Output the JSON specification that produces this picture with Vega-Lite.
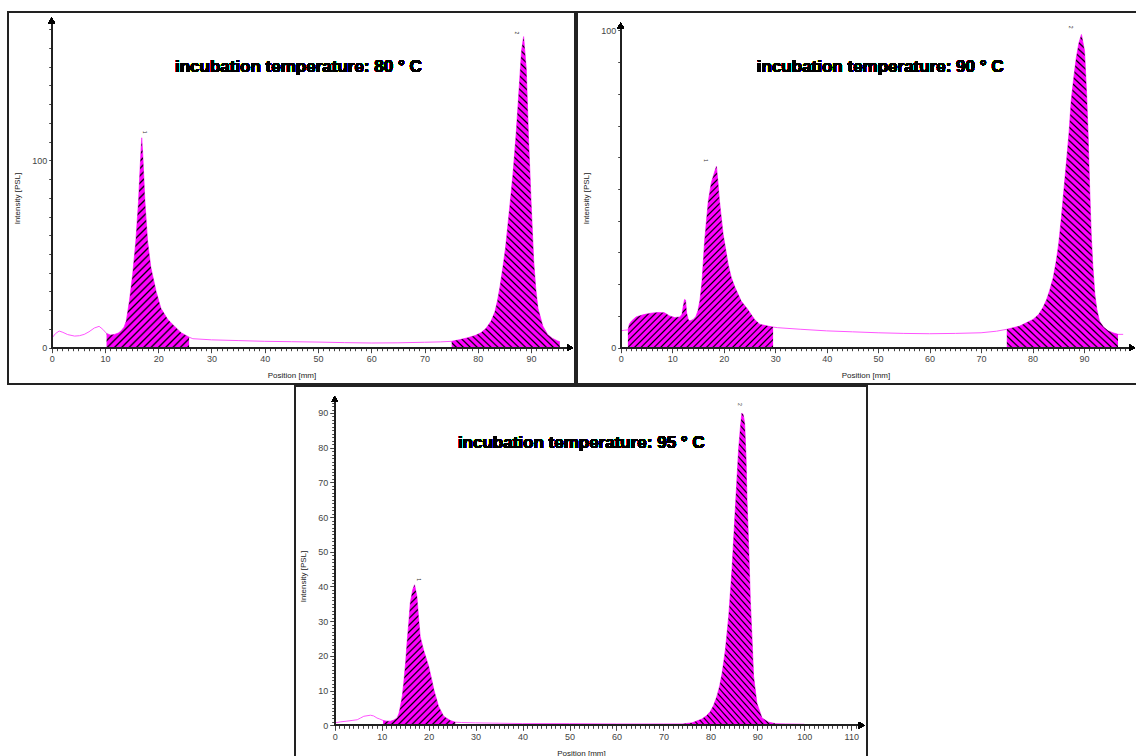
{
"$schema":"https://vega.github.io/schema/vega-lite/v6.json",
"background":"white",
"padding":{"left":7,"top":11,"right":0,"bottom":0},
"spacing":0,
"center":true,
"config":{
 "view":{"stroke":"#222","strokeWidth":2},
 "axis":{"grid":false,"domain":false,"labelFont":"Liberation Sans","titleFont":"Liberation Sans","labelFontSize":9,"titleFontSize":8,"titleFontWeight":"normal","labelColor":"#444","titleColor":"#222","tickColor":"#444","tickWidth":1,"labelOverlap":false,"labelPadding":2},
 "axisX":{"titlePadding":8},
 "axisY":{"titlePadding":10},
 "area":{"opacity":1,"fill":{"gradient":"linear","x1":0,"y1":1,"x2":0.4,"y2":-0.2,"stops":[
{"offset":0,"color":"#f0f"},{"offset":0.008,"color":"#f0f"},{"offset":0.012,"color":"#000"},
{"offset":0.016,"color":"#f0f"},{"offset":0.024,"color":"#f0f"},{"offset":0.028,"color":"#000"},
{"offset":0.032,"color":"#f0f"},{"offset":0.04,"color":"#f0f"},{"offset":0.044,"color":"#000"},
{"offset":0.048,"color":"#f0f"},{"offset":0.056,"color":"#f0f"},{"offset":0.06,"color":"#000"},
{"offset":0.064,"color":"#f0f"},{"offset":0.072,"color":"#f0f"},{"offset":0.076,"color":"#000"},
{"offset":0.08,"color":"#f0f"},{"offset":0.088,"color":"#f0f"},{"offset":0.092,"color":"#000"},
{"offset":0.096,"color":"#f0f"},{"offset":0.104,"color":"#f0f"},{"offset":0.108,"color":"#000"},
{"offset":0.112,"color":"#f0f"},{"offset":0.12,"color":"#f0f"},{"offset":0.124,"color":"#000"},
{"offset":0.128,"color":"#f0f"},{"offset":0.136,"color":"#f0f"},{"offset":0.14,"color":"#000"},
{"offset":0.144,"color":"#f0f"},{"offset":0.152,"color":"#f0f"},{"offset":0.156,"color":"#000"},
{"offset":0.16,"color":"#f0f"},{"offset":0.168,"color":"#f0f"},{"offset":0.172,"color":"#000"},
{"offset":0.176,"color":"#f0f"},{"offset":0.184,"color":"#f0f"},{"offset":0.188,"color":"#000"},
{"offset":0.192,"color":"#f0f"},{"offset":0.2,"color":"#f0f"},{"offset":0.204,"color":"#000"},
{"offset":0.208,"color":"#f0f"},{"offset":0.216,"color":"#f0f"},{"offset":0.22,"color":"#000"},
{"offset":0.224,"color":"#f0f"},{"offset":0.232,"color":"#f0f"},{"offset":0.236,"color":"#000"},
{"offset":0.24,"color":"#f0f"},{"offset":0.248,"color":"#f0f"},{"offset":0.252,"color":"#000"},
{"offset":0.256,"color":"#f0f"},{"offset":0.264,"color":"#f0f"},{"offset":0.268,"color":"#000"},
{"offset":0.272,"color":"#f0f"},{"offset":0.28,"color":"#f0f"},{"offset":0.284,"color":"#000"},
{"offset":0.288,"color":"#f0f"},{"offset":0.296,"color":"#f0f"},{"offset":0.3,"color":"#000"},
{"offset":0.304,"color":"#f0f"},{"offset":0.312,"color":"#f0f"},{"offset":0.316,"color":"#000"},
{"offset":0.32,"color":"#f0f"},{"offset":0.328,"color":"#f0f"},{"offset":0.332,"color":"#000"},
{"offset":0.336,"color":"#f0f"},{"offset":0.344,"color":"#f0f"},{"offset":0.348,"color":"#000"},
{"offset":0.352,"color":"#f0f"},{"offset":0.36,"color":"#f0f"},{"offset":0.364,"color":"#000"},
{"offset":0.368,"color":"#f0f"},{"offset":0.376,"color":"#f0f"},{"offset":0.38,"color":"#000"},
{"offset":0.384,"color":"#f0f"},{"offset":0.392,"color":"#f0f"},{"offset":0.396,"color":"#000"},
{"offset":0.4,"color":"#f0f"},{"offset":0.408,"color":"#f0f"},{"offset":0.412,"color":"#000"},
{"offset":0.416,"color":"#f0f"},{"offset":0.424,"color":"#f0f"},{"offset":0.428,"color":"#000"},
{"offset":0.432,"color":"#f0f"},{"offset":0.44,"color":"#f0f"},{"offset":0.444,"color":"#000"},
{"offset":0.448,"color":"#f0f"},{"offset":0.456,"color":"#f0f"},{"offset":0.46,"color":"#000"},
{"offset":0.464,"color":"#f0f"},{"offset":0.472,"color":"#f0f"},{"offset":0.476,"color":"#000"},
{"offset":0.48,"color":"#f0f"},{"offset":0.488,"color":"#f0f"},{"offset":0.492,"color":"#000"},
{"offset":0.496,"color":"#f0f"},{"offset":0.504,"color":"#f0f"},{"offset":0.508,"color":"#000"},
{"offset":0.512,"color":"#f0f"},{"offset":0.52,"color":"#f0f"},{"offset":0.524,"color":"#000"},
{"offset":0.528,"color":"#f0f"},{"offset":0.536,"color":"#f0f"},{"offset":0.54,"color":"#000"},
{"offset":0.544,"color":"#f0f"},{"offset":0.552,"color":"#f0f"},{"offset":0.556,"color":"#000"},
{"offset":0.56,"color":"#f0f"},{"offset":0.568,"color":"#f0f"},{"offset":0.572,"color":"#000"},
{"offset":0.576,"color":"#f0f"},{"offset":0.584,"color":"#f0f"},{"offset":0.588,"color":"#000"},
{"offset":0.592,"color":"#f0f"},{"offset":0.6,"color":"#f0f"},{"offset":0.604,"color":"#000"},
{"offset":0.608,"color":"#f0f"},{"offset":0.616,"color":"#f0f"},{"offset":0.62,"color":"#000"},
{"offset":0.624,"color":"#f0f"},{"offset":0.632,"color":"#f0f"},{"offset":0.636,"color":"#000"},
{"offset":0.64,"color":"#f0f"},{"offset":0.648,"color":"#f0f"},{"offset":0.652,"color":"#000"},
{"offset":0.656,"color":"#f0f"},{"offset":0.664,"color":"#f0f"},{"offset":0.668,"color":"#000"},
{"offset":0.672,"color":"#f0f"},{"offset":0.68,"color":"#f0f"},{"offset":0.684,"color":"#000"},
{"offset":0.688,"color":"#f0f"},{"offset":0.696,"color":"#f0f"},{"offset":0.7,"color":"#000"},
{"offset":0.704,"color":"#f0f"},{"offset":0.712,"color":"#f0f"},{"offset":0.716,"color":"#000"},
{"offset":0.72,"color":"#f0f"},{"offset":0.728,"color":"#f0f"},{"offset":0.732,"color":"#000"},
{"offset":0.736,"color":"#f0f"},{"offset":0.744,"color":"#f0f"},{"offset":0.748,"color":"#000"},
{"offset":0.752,"color":"#f0f"},{"offset":0.76,"color":"#f0f"},{"offset":0.764,"color":"#000"},
{"offset":0.768,"color":"#f0f"},{"offset":0.776,"color":"#f0f"},{"offset":0.78,"color":"#000"},
{"offset":0.784,"color":"#f0f"},{"offset":0.792,"color":"#f0f"},{"offset":0.796,"color":"#000"},
{"offset":0.8,"color":"#f0f"},{"offset":0.808,"color":"#f0f"},{"offset":0.812,"color":"#000"},
{"offset":0.816,"color":"#f0f"},{"offset":0.824,"color":"#f0f"},{"offset":0.828,"color":"#000"},
{"offset":0.832,"color":"#f0f"},{"offset":0.84,"color":"#f0f"},{"offset":0.844,"color":"#000"},
{"offset":0.848,"color":"#f0f"},{"offset":0.856,"color":"#f0f"},{"offset":0.86,"color":"#000"},
{"offset":0.864,"color":"#f0f"},{"offset":0.872,"color":"#f0f"},{"offset":0.876,"color":"#000"},
{"offset":0.88,"color":"#f0f"},{"offset":0.888,"color":"#f0f"},{"offset":0.892,"color":"#000"},
{"offset":0.896,"color":"#f0f"},{"offset":0.904,"color":"#f0f"},{"offset":0.908,"color":"#000"},
{"offset":0.912,"color":"#f0f"},{"offset":0.92,"color":"#f0f"},{"offset":0.924,"color":"#000"},
{"offset":0.928,"color":"#f0f"},{"offset":0.936,"color":"#f0f"},{"offset":0.94,"color":"#000"},
{"offset":0.944,"color":"#f0f"},{"offset":0.952,"color":"#f0f"},{"offset":0.956,"color":"#000"},
{"offset":0.96,"color":"#f0f"},{"offset":0.968,"color":"#f0f"},{"offset":0.972,"color":"#000"},
{"offset":0.976,"color":"#f0f"},{"offset":0.984,"color":"#f0f"},{"offset":0.988,"color":"#000"},
{"offset":0.992,"color":"#f0f"},{"offset":1,"color":"#f0f"}]}}
},
"datasets":{
"a":[{"x":0,"y":5,"r":""},{"x":0.7,"y":7.5,"r":""},{"x":1.4,"y":8.9,"r":""},{"x":2.1,"y":8.2,"r":""},{"x":3,"y":7,"r":""},{"x":4.3,"y":6.2,"r":""},{"x":5.2,"y":6.4,"r":""},{"x":6.1,"y":7.1,"r":""},{"x":7,"y":8.5,"r":""},{"x":8,"y":10.5,"r":""},{"x":8.9,"y":11.4,"r":""},{"x":9.6,"y":9.8,"r":""},
{"x":10.3,"y":7.6,"r":"p1"},{"x":11,"y":6.8,"r":"p1"},{"x":11.8,"y":7.1,"r":"p1"},{"x":12.5,"y":7.8,"r":"p1"},{"x":13,"y":8.9,"r":"p1"},{"x":13.6,"y":11,"r":"p1"},{"x":14,"y":14.2,"r":"p1"},{"x":14.6,"y":25,"r":"p1"},{"x":15.2,"y":39,"r":"p1"},{"x":15.8,"y":57,"r":"p1"},{"x":16.3,"y":78,"r":"p1"},{"x":16.6,"y":96,"r":"p1"},{"x":16.9,"y":112,"r":"p1"},{"x":17.1,"y":103,"r":"p1"},{"x":17.5,"y":78,"r":"p1"},{"x":18,"y":57,"r":"p1"},{"x":18.6,"y":43,"r":"p1"},{"x":19.6,"y":30,"r":"p1"},{"x":20.5,"y":21,"r":"p1"},{"x":21.8,"y":15,"r":"p1"},{"x":23,"y":11.6,"r":"p1"},{"x":24.3,"y":8,"r":"p1"},{"x":25.8,"y":5.6,"r":"p1"},
{"x":26.5,"y":4.8,"r":""},{"x":30,"y":4.2,"r":""},{"x":35,"y":3.8,"r":""},{"x":40,"y":3.4,"r":""},{"x":45,"y":3.2,"r":""},{"x":50,"y":3,"r":""},{"x":55,"y":2.7,"r":""},{"x":60,"y":2.5,"r":""},{"x":65,"y":2.6,"r":""},{"x":70,"y":2.9,"r":""},{"x":73,"y":3.1,"r":""},
{"x":75.1,"y":3.4,"r":"p2"},{"x":76.5,"y":4.2,"r":"p2"},{"x":78.1,"y":5.3,"r":"p2"},{"x":79.5,"y":6.5,"r":"p2"},{"x":80.6,"y":8,"r":"p2"},{"x":81.6,"y":10.5,"r":"p2"},{"x":82.5,"y":14.2,"r":"p2"},{"x":83.2,"y":19,"r":"p2"},{"x":83.7,"y":25,"r":"p2"},{"x":84.2,"y":33,"r":"p2"},{"x":84.7,"y":42.7,"r":"p2"},{"x":85.2,"y":53,"r":"p2"},{"x":85.6,"y":64,"r":"p2"},{"x":86.1,"y":78,"r":"p2"},{"x":86.6,"y":92.5,"r":"p2"},{"x":87.2,"y":114,"r":"p2"},{"x":87.8,"y":140,"r":"p2"},{"x":88.2,"y":158,"r":"p2"},{"x":88.6,"y":166,"r":"p2"},{"x":89.1,"y":149,"r":"p2"},{"x":89.5,"y":114,"r":"p2"},{"x":90,"y":78,"r":"p2"},{"x":90.5,"y":46,"r":"p2"},{"x":90.9,"y":31,"r":"p2"},{"x":91.3,"y":21,"r":"p2"},{"x":92.2,"y":11.6,"r":"p2"},{"x":93.1,"y":7.1,"r":"p2"},{"x":94,"y":5,"r":"p2"},{"x":95,"y":3.6,"r":"p2"},{"x":95.4,"y":3.2,"r":"p2"}],
"b":[{"x":0,"y":5.3,"r":""},{"x":0.7,"y":5.5,"r":""},
{"x":1.4,"y":5.6,"r":"p1"},{"x":1.7,"y":7.5,"r":"p1"},{"x":2.1,"y":8.4,"r":"p1"},{"x":3,"y":9.7,"r":"p1"},{"x":4,"y":10.2,"r":"p1"},{"x":4.7,"y":10.5,"r":"p1"},{"x":5.6,"y":10.8,"r":"p1"},{"x":6.6,"y":11,"r":"p1"},{"x":7.5,"y":11.1,"r":"p1"},{"x":8.5,"y":11,"r":"p1"},{"x":9.5,"y":10,"r":"p1"},{"x":10.5,"y":9.5,"r":"p1"},{"x":11.5,"y":9.7,"r":"p1"},{"x":11.9,"y":10.5,"r":"p1"},{"x":12.2,"y":13.5,"r":"p1"},{"x":12.4,"y":15.2,"r":"p1"},{"x":12.6,"y":15,"r":"p1"},{"x":12.8,"y":11,"r":"p1"},{"x":13.1,"y":9,"r":"p1"},{"x":13.4,"y":8.4,"r":"p1"},{"x":14.1,"y":8.9,"r":"p1"},{"x":14.6,"y":9.8,"r":"p1"},{"x":15,"y":11.6,"r":"p1"},{"x":15.4,"y":15,"r":"p1"},{"x":15.8,"y":21,"r":"p1"},{"x":16.3,"y":33.6,"r":"p1"},{"x":17,"y":46,"r":"p1"},{"x":17.6,"y":52,"r":"p1"},{"x":18.3,"y":55.7,"r":"p1"},{"x":18.6,"y":57.2,"r":"p1"},{"x":18.9,"y":52,"r":"p1"},{"x":19.2,"y":46,"r":"p1"},{"x":19.9,"y":35.7,"r":"p1"},{"x":20.9,"y":26,"r":"p1"},{"x":21.5,"y":22,"r":"p1"},{"x":22.2,"y":19,"r":"p1"},{"x":23.4,"y":14.7,"r":"p1"},{"x":24.7,"y":12,"r":"p1"},{"x":26,"y":8.9,"r":"p1"},{"x":27,"y":7.4,"r":"p1"},{"x":28.6,"y":6.8,"r":"p1"},{"x":29.6,"y":6.5,"r":"p1"},
{"x":30.5,"y":6.3,"r":""},{"x":35,"y":5.8,"r":""},{"x":40,"y":5.3,"r":""},{"x":45,"y":5,"r":""},{"x":50,"y":4.7,"r":""},{"x":55,"y":4.5,"r":""},{"x":60,"y":4.4,"r":""},{"x":65,"y":4.5,"r":""},{"x":70,"y":4.7,"r":""},{"x":73,"y":5.2,"r":""},
{"x":75,"y":5.8,"r":"p2"},{"x":77.5,"y":6.8,"r":"p2"},{"x":80.1,"y":8.9,"r":"p2"},{"x":81.2,"y":10.5,"r":"p2"},{"x":82,"y":12.6,"r":"p2"},{"x":82.7,"y":15,"r":"p2"},{"x":83.3,"y":17.9,"r":"p2"},{"x":84,"y":22,"r":"p2"},{"x":84.6,"y":27.3,"r":"p2"},{"x":85.1,"y":33,"r":"p2"},{"x":85.6,"y":41,"r":"p2"},{"x":86.1,"y":50,"r":"p2"},{"x":86.6,"y":58.8,"r":"p2"},{"x":87.1,"y":68,"r":"p2"},{"x":87.5,"y":77.7,"r":"p2"},{"x":88,"y":85,"r":"p2"},{"x":88.5,"y":91.4,"r":"p2"},{"x":89,"y":96,"r":"p2"},{"x":89.5,"y":98.7,"r":"p2"},{"x":90.1,"y":93.5,"r":"p2"},{"x":90.5,"y":80,"r":"p2"},{"x":90.8,"y":67,"r":"p2"},{"x":91.1,"y":50,"r":"p2"},{"x":91.4,"y":35.7,"r":"p2"},{"x":91.7,"y":26,"r":"p2"},{"x":92.1,"y":16.8,"r":"p2"},{"x":92.5,"y":12,"r":"p2"},{"x":93,"y":8.4,"r":"p2"},{"x":93.8,"y":6.5,"r":"p2"},{"x":94.7,"y":5.3,"r":"p2"},{"x":95.6,"y":4.7,"r":"p2"},{"x":96.6,"y":4.2,"r":"p2"},
{"x":97.6,"y":4.2,"r":""}],
"c":[{"x":0,"y":0.7,"r":""},{"x":1.3,"y":1,"r":""},{"x":2.6,"y":1.2,"r":""},{"x":3.7,"y":1.4,"r":""},{"x":4.8,"y":1.6,"r":""},{"x":5.5,"y":2.1,"r":""},{"x":6.2,"y":2.6,"r":""},{"x":7.6,"y":2.9,"r":""},{"x":8.3,"y":2.7,"r":""},{"x":9,"y":2.1,"r":""},{"x":9.6,"y":1.8,"r":""},
{"x":10.3,"y":1.4,"r":"p1"},{"x":11.1,"y":1.2,"r":"p1"},{"x":11.9,"y":1.2,"r":"p1"},{"x":12.6,"y":1.5,"r":"p1"},{"x":13.3,"y":2.1,"r":"p1"},{"x":13.7,"y":3.5,"r":"p1"},{"x":14,"y":5.5,"r":"p1"},{"x":14.4,"y":8.5,"r":"p1"},{"x":14.7,"y":12.2,"r":"p1"},{"x":15.1,"y":18,"r":"p1"},{"x":15.4,"y":23.7,"r":"p1"},{"x":15.8,"y":30,"r":"p1"},{"x":16.1,"y":35.3,"r":"p1"},{"x":16.6,"y":39,"r":"p1"},{"x":17,"y":40.5,"r":"p1"},{"x":17.5,"y":37.2,"r":"p1"},{"x":17.8,"y":32,"r":"p1"},{"x":18.2,"y":25.6,"r":"p1"},{"x":18.9,"y":21.8,"r":"p1"},{"x":20,"y":17,"r":"p1"},{"x":20.6,"y":13.5,"r":"p1"},{"x":21.1,"y":10.3,"r":"p1"},{"x":22.1,"y":5.5,"r":"p1"},{"x":23.2,"y":2.6,"r":"p1"},{"x":24.6,"y":1.4,"r":"p1"},{"x":25.7,"y":0.9,"r":"p1"},
{"x":27,"y":0.8,"r":""},{"x":30,"y":0.7,"r":""},{"x":35,"y":0.6,"r":""},{"x":40,"y":0.5,"r":""},{"x":50,"y":0.5,"r":""},{"x":60,"y":0.4,"r":""},{"x":70,"y":0.4,"r":""},
{"x":74,"y":0.4,"r":"p2"},{"x":76.1,"y":0.7,"r":"p2"},{"x":78.2,"y":1.8,"r":"p2"},{"x":79.2,"y":2.8,"r":"p2"},{"x":80,"y":4,"r":"p2"},{"x":80.7,"y":5.8,"r":"p2"},{"x":81.4,"y":8.4,"r":"p2"},{"x":82,"y":11.5,"r":"p2"},{"x":82.5,"y":15,"r":"p2"},{"x":83.2,"y":21.8,"r":"p2"},{"x":83.9,"y":31.4,"r":"p2"},{"x":84.6,"y":44.9,"r":"p2"},{"x":85.3,"y":62.2,"r":"p2"},{"x":86,"y":79.4,"r":"p2"},{"x":86.4,"y":86,"r":"p2"},{"x":86.7,"y":90,"r":"p2"},{"x":87,"y":89.5,"r":"p2"},{"x":87.3,"y":87,"r":"p2"},{"x":87.6,"y":77,"r":"p2"},{"x":87.8,"y":65,"r":"p2"},{"x":88.2,"y":50,"r":"p2"},{"x":88.5,"y":36.2,"r":"p2"},{"x":88.9,"y":24,"r":"p2"},{"x":89.2,"y":14.1,"r":"p2"},{"x":89.9,"y":6.4,"r":"p2"},{"x":91,"y":2.1,"r":"p2"},{"x":92.4,"y":0.9,"r":"p2"},{"x":93.8,"y":0.5,"r":"p2"},
{"x":96,"y":0.4,"r":""},{"x":100,"y":0.3,"r":""}]
},
"vconcat":[
{"hconcat":[
{"width":567,"height":372,"data":{"name":"a"},"layer":[
 {"mark":{"type":"line","color":"#ff55ff","strokeWidth":1},
  "encoding":{
   "x":{"field":"x","type":"quantitative","scale":{"domain":[-8.205,98.25],"nice":false,"zero":false},
     "axis":{"title":"Position [mm]","offset":-36.3,"labelOverlap":false,"tickCount":500,"format":"d","values":[0,1,2,3,4,5,6,7,8,9,10,11,12,13,14,15,16,17,18,19,20,21,22,23,24,25,26,27,28,29,30,31,32,33,34,35,36,37,38,39,40,41,42,43,44,45,46,47,48,49,50,51,52,53,54,55,56,57,58,59,60,61,62,63,64,65,66,67,68,69,70,71,72,73,74,75,76,77,78,79,80,81,82,83,84,85,86,87,88,89,90,91,92,93,94,95,96],"labelExpr":"datum.value % 10 == 0 ? datum.label : ''","tickSize":{"condition":{"test":"datum.value % 10 == 0","value":5},"value":3}}},
   "y":{"field":"y","type":"quantitative","scale":{"domain":[-19.37,179.13],"nice":false,"zero":false},
     "axis":{"title":"Intensity [PSL]","offset":-43.7,"labelOverlap":false,"tickCount":500,"format":"d","values":[0,10,20,30,40,50,60,70,80,90,100,110,120,130,140,150,160,170],"labelExpr":"datum.value == 0 || datum.value == 100 ? datum.label : ''","tickSize":3}}}},
 {"transform":[{"filter":"datum.r == 'p1'"}],
  "mark":{"type":"area","opacity":1,"fill":{"gradient":"linear","x1":0,"y1":0,"x2":0.4748,"y2":1.2067,"stops":[
{"offset":0,"color":"#f0f"},{"offset":0.0125,"color":"#f0f"},{"offset":0.01875,"color":"#000"},
{"offset":0.025,"color":"#f0f"},{"offset":0.0375,"color":"#f0f"},{"offset":0.04375,"color":"#000"},
{"offset":0.05,"color":"#f0f"},{"offset":0.0625,"color":"#f0f"},{"offset":0.06875,"color":"#000"},
{"offset":0.075,"color":"#f0f"},{"offset":0.0875,"color":"#f0f"},{"offset":0.09375,"color":"#000"},
{"offset":0.1,"color":"#f0f"},{"offset":0.1125,"color":"#f0f"},{"offset":0.11875,"color":"#000"},
{"offset":0.125,"color":"#f0f"},{"offset":0.1375,"color":"#f0f"},{"offset":0.14375,"color":"#000"},
{"offset":0.15,"color":"#f0f"},{"offset":0.1625,"color":"#f0f"},{"offset":0.16875,"color":"#000"},
{"offset":0.175,"color":"#f0f"},{"offset":0.1875,"color":"#f0f"},{"offset":0.19375,"color":"#000"},
{"offset":0.2,"color":"#f0f"},{"offset":0.2125,"color":"#f0f"},{"offset":0.21875,"color":"#000"},
{"offset":0.225,"color":"#f0f"},{"offset":0.2375,"color":"#f0f"},{"offset":0.24375,"color":"#000"},
{"offset":0.25,"color":"#f0f"},{"offset":0.2625,"color":"#f0f"},{"offset":0.26875,"color":"#000"},
{"offset":0.275,"color":"#f0f"},{"offset":0.2875,"color":"#f0f"},{"offset":0.29375,"color":"#000"},
{"offset":0.3,"color":"#f0f"},{"offset":0.3125,"color":"#f0f"},{"offset":0.31875,"color":"#000"},
{"offset":0.325,"color":"#f0f"},{"offset":0.3375,"color":"#f0f"},{"offset":0.34375,"color":"#000"},
{"offset":0.35,"color":"#f0f"},{"offset":0.3625,"color":"#f0f"},{"offset":0.36875,"color":"#000"},
{"offset":0.375,"color":"#f0f"},{"offset":0.3875,"color":"#f0f"},{"offset":0.39375,"color":"#000"},
{"offset":0.4,"color":"#f0f"},{"offset":0.4125,"color":"#f0f"},{"offset":0.41875,"color":"#000"},
{"offset":0.425,"color":"#f0f"},{"offset":0.4375,"color":"#f0f"},{"offset":0.44375,"color":"#000"},
{"offset":0.45,"color":"#f0f"},{"offset":0.4625,"color":"#f0f"},{"offset":0.46875,"color":"#000"},
{"offset":0.475,"color":"#f0f"},{"offset":0.4875,"color":"#f0f"},{"offset":0.49375,"color":"#000"},
{"offset":0.5,"color":"#f0f"},{"offset":0.5125,"color":"#f0f"},{"offset":0.51875,"color":"#000"},
{"offset":0.525,"color":"#f0f"},{"offset":0.5375,"color":"#f0f"},{"offset":0.54375,"color":"#000"},
{"offset":0.55,"color":"#f0f"},{"offset":0.5625,"color":"#f0f"},{"offset":0.56875,"color":"#000"},
{"offset":0.575,"color":"#f0f"},{"offset":0.5875,"color":"#f0f"},{"offset":0.59375,"color":"#000"},
{"offset":0.6,"color":"#f0f"},{"offset":0.6125,"color":"#f0f"},{"offset":0.61875,"color":"#000"},
{"offset":0.625,"color":"#f0f"},{"offset":0.6375,"color":"#f0f"},{"offset":0.64375,"color":"#000"},
{"offset":0.65,"color":"#f0f"},{"offset":0.6625,"color":"#f0f"},{"offset":0.66875,"color":"#000"},
{"offset":0.675,"color":"#f0f"},{"offset":0.6875,"color":"#f0f"},{"offset":0.69375,"color":"#000"},
{"offset":0.7,"color":"#f0f"},{"offset":0.7125,"color":"#f0f"},{"offset":0.71875,"color":"#000"},
{"offset":0.725,"color":"#f0f"},{"offset":0.7375,"color":"#f0f"},{"offset":0.74375,"color":"#000"},
{"offset":0.75,"color":"#f0f"},{"offset":0.7625,"color":"#f0f"},{"offset":0.76875,"color":"#000"},
{"offset":0.775,"color":"#f0f"},{"offset":0.7875,"color":"#f0f"},{"offset":0.79375,"color":"#000"},
{"offset":0.8,"color":"#f0f"},{"offset":0.8125,"color":"#f0f"},{"offset":0.81875,"color":"#000"},
{"offset":0.825,"color":"#f0f"},{"offset":0.8375,"color":"#f0f"},{"offset":0.84375,"color":"#000"},
{"offset":0.85,"color":"#f0f"},{"offset":0.8625,"color":"#f0f"},{"offset":0.86875,"color":"#000"},
{"offset":0.875,"color":"#f0f"},{"offset":0.8875,"color":"#f0f"},{"offset":0.89375,"color":"#000"},
{"offset":0.9,"color":"#f0f"},{"offset":0.9125,"color":"#f0f"},{"offset":0.91875,"color":"#000"},
{"offset":0.925,"color":"#f0f"},{"offset":0.9375,"color":"#f0f"},{"offset":0.94375,"color":"#000"},
{"offset":0.95,"color":"#f0f"},{"offset":0.9625,"color":"#f0f"},{"offset":0.96875,"color":"#000"},
{"offset":0.975,"color":"#f0f"},{"offset":0.9875,"color":"#f0f"},{"offset":0.99375,"color":"#000"},
{"offset":1,"color":"#f0f"}]}},
  "encoding":{"x":{"field":"x","type":"quantitative"},"y":{"field":"y","type":"quantitative"},"y2":{"datum":0}}},
 {"transform":[{"filter":"datum.r == 'p2'"}],"mark":{"type":"area","opacity":1},
  "encoding":{"x":{"field":"x","type":"quantitative"},"y":{"field":"y","type":"quantitative"},"y2":{"datum":0}}},
 {"mark":{"type":"rule","color":"#222","strokeWidth":1},"encoding":{"x":{"datum":0,"type":"quantitative"},"x2":{"datum":97.3},"y":{"datum":0,"type":"quantitative"}}},
 {"mark":{"type":"rule","color":"#222","strokeWidth":1},"encoding":{"x":{"datum":0,"type":"quantitative"},"y":{"datum":0,"type":"quantitative"},"y2":{"datum":174.6}}},
 {"mark":{"type":"point","shape":"triangle-up","filled":true,"color":"#000","size":45,"opacity":1},"encoding":{"x":{"datum":0,"type":"quantitative"},"y":{"datum":174.6,"type":"quantitative"}}},
 {"mark":{"type":"point","shape":"triangle-right","filled":true,"color":"#000","size":45,"opacity":1},"encoding":{"x":{"datum":97.3,"type":"quantitative"},"y":{"datum":0,"type":"quantitative"}}},
 {"mark":{"type":"text","text":"incubation temperature: 80 ° C","font":"Liberation Sans","fontSize":17,"fontWeight":"bold","color":"#000"},"encoding":{"x":{"datum":46.3,"type":"quantitative"},"y":{"datum":149.8,"type":"quantitative"}}},
 {"data":{"values":[{"x":17.6,"y":115,"t":"1"},{"x":87.4,"y":168,"t":"2"}]},"mark":{"type":"text","fontSize":5,"angle":90,"color":"#333","font":"Liberation Sans"},"encoding":{"x":{"field":"x","type":"quantitative"},"y":{"field":"y","type":"quantitative"},"text":{"field":"t"}}}
]},
{"width":577,"height":372,"data":{"name":"b"},"layer":[
 {"mark":{"type":"line","color":"#ff55ff","strokeWidth":1},
  "encoding":{
   "x":{"field":"x","type":"quantitative","scale":{"domain":[-8.489,103.59],"nice":false,"zero":false},
     "axis":{"title":"Position [mm]","offset":-36.3,"labelOverlap":false,"tickCount":500,"format":"d","values":[0,1,2,3,4,5,6,7,8,9,10,11,12,13,14,15,16,17,18,19,20,21,22,23,24,25,26,27,28,29,30,31,32,33,34,35,36,37,38,39,40,41,42,43,44,45,46,47,48,49,50,51,52,53,54,55,56,57,58,59,60,61,62,63,64,65,66,67,68,69,70,71,72,73,74,75,76,77,78,79,80,81,82,83,84,85,86,87,88,89,90,91,92,93,94,95,96,97,98],"labelExpr":"datum.value % 10 == 0 ? datum.label : ''","tickSize":{"condition":{"test":"datum.value % 10 == 0","value":5},"value":3}}},
   "y":{"field":"y","type":"quantitative","scale":{"domain":[-11.44,105.77],"nice":false,"zero":false},
     "axis":{"title":"Intensity [PSL]","offset":-43.7,"labelOverlap":false,"tickCount":500,"format":"d","values":[0,10,20,30,40,50,60,70,80,90,100],"labelExpr":"datum.value == 0 || datum.value == 100 ? datum.label : ''","tickSize":3}}}},
 {"transform":[{"filter":"datum.r == 'p1'"}],
  "mark":{"type":"area","opacity":1,"fill":{"gradient":"linear","x1":0,"y1":0,"x2":0.8777,"y2":1.0978,"stops":[
{"offset":0,"color":"#f0f"},{"offset":0.01,"color":"#f0f"},{"offset":0.015,"color":"#000"},
{"offset":0.02,"color":"#f0f"},{"offset":0.03,"color":"#f0f"},{"offset":0.035,"color":"#000"},
{"offset":0.04,"color":"#f0f"},{"offset":0.05,"color":"#f0f"},{"offset":0.055,"color":"#000"},
{"offset":0.06,"color":"#f0f"},{"offset":0.07,"color":"#f0f"},{"offset":0.075,"color":"#000"},
{"offset":0.08,"color":"#f0f"},{"offset":0.09,"color":"#f0f"},{"offset":0.095,"color":"#000"},
{"offset":0.1,"color":"#f0f"},{"offset":0.11,"color":"#f0f"},{"offset":0.115,"color":"#000"},
{"offset":0.12,"color":"#f0f"},{"offset":0.13,"color":"#f0f"},{"offset":0.135,"color":"#000"},
{"offset":0.14,"color":"#f0f"},{"offset":0.15,"color":"#f0f"},{"offset":0.155,"color":"#000"},
{"offset":0.16,"color":"#f0f"},{"offset":0.17,"color":"#f0f"},{"offset":0.175,"color":"#000"},
{"offset":0.18,"color":"#f0f"},{"offset":0.19,"color":"#f0f"},{"offset":0.195,"color":"#000"},
{"offset":0.2,"color":"#f0f"},{"offset":0.21,"color":"#f0f"},{"offset":0.215,"color":"#000"},
{"offset":0.22,"color":"#f0f"},{"offset":0.23,"color":"#f0f"},{"offset":0.235,"color":"#000"},
{"offset":0.24,"color":"#f0f"},{"offset":0.25,"color":"#f0f"},{"offset":0.255,"color":"#000"},
{"offset":0.26,"color":"#f0f"},{"offset":0.27,"color":"#f0f"},{"offset":0.275,"color":"#000"},
{"offset":0.28,"color":"#f0f"},{"offset":0.29,"color":"#f0f"},{"offset":0.295,"color":"#000"},
{"offset":0.3,"color":"#f0f"},{"offset":0.31,"color":"#f0f"},{"offset":0.315,"color":"#000"},
{"offset":0.32,"color":"#f0f"},{"offset":0.33,"color":"#f0f"},{"offset":0.335,"color":"#000"},
{"offset":0.34,"color":"#f0f"},{"offset":0.35,"color":"#f0f"},{"offset":0.355,"color":"#000"},
{"offset":0.36,"color":"#f0f"},{"offset":0.37,"color":"#f0f"},{"offset":0.375,"color":"#000"},
{"offset":0.38,"color":"#f0f"},{"offset":0.39,"color":"#f0f"},{"offset":0.395,"color":"#000"},
{"offset":0.4,"color":"#f0f"},{"offset":0.41,"color":"#f0f"},{"offset":0.415,"color":"#000"},
{"offset":0.42,"color":"#f0f"},{"offset":0.43,"color":"#f0f"},{"offset":0.435,"color":"#000"},
{"offset":0.44,"color":"#f0f"},{"offset":0.45,"color":"#f0f"},{"offset":0.455,"color":"#000"},
{"offset":0.46,"color":"#f0f"},{"offset":0.47,"color":"#f0f"},{"offset":0.475,"color":"#000"},
{"offset":0.48,"color":"#f0f"},{"offset":0.49,"color":"#f0f"},{"offset":0.495,"color":"#000"},
{"offset":0.5,"color":"#f0f"},{"offset":0.51,"color":"#f0f"},{"offset":0.515,"color":"#000"},
{"offset":0.52,"color":"#f0f"},{"offset":0.53,"color":"#f0f"},{"offset":0.535,"color":"#000"},
{"offset":0.54,"color":"#f0f"},{"offset":0.55,"color":"#f0f"},{"offset":0.555,"color":"#000"},
{"offset":0.56,"color":"#f0f"},{"offset":0.57,"color":"#f0f"},{"offset":0.575,"color":"#000"},
{"offset":0.58,"color":"#f0f"},{"offset":0.59,"color":"#f0f"},{"offset":0.595,"color":"#000"},
{"offset":0.6,"color":"#f0f"},{"offset":0.61,"color":"#f0f"},{"offset":0.615,"color":"#000"},
{"offset":0.62,"color":"#f0f"},{"offset":0.63,"color":"#f0f"},{"offset":0.635,"color":"#000"},
{"offset":0.64,"color":"#f0f"},{"offset":0.65,"color":"#f0f"},{"offset":0.655,"color":"#000"},
{"offset":0.66,"color":"#f0f"},{"offset":0.67,"color":"#f0f"},{"offset":0.675,"color":"#000"},
{"offset":0.68,"color":"#f0f"},{"offset":0.69,"color":"#f0f"},{"offset":0.695,"color":"#000"},
{"offset":0.7,"color":"#f0f"},{"offset":0.71,"color":"#f0f"},{"offset":0.715,"color":"#000"},
{"offset":0.72,"color":"#f0f"},{"offset":0.73,"color":"#f0f"},{"offset":0.735,"color":"#000"},
{"offset":0.74,"color":"#f0f"},{"offset":0.75,"color":"#f0f"},{"offset":0.755,"color":"#000"},
{"offset":0.76,"color":"#f0f"},{"offset":0.77,"color":"#f0f"},{"offset":0.775,"color":"#000"},
{"offset":0.78,"color":"#f0f"},{"offset":0.79,"color":"#f0f"},{"offset":0.795,"color":"#000"},
{"offset":0.8,"color":"#f0f"},{"offset":0.81,"color":"#f0f"},{"offset":0.815,"color":"#000"},
{"offset":0.82,"color":"#f0f"},{"offset":0.83,"color":"#f0f"},{"offset":0.835,"color":"#000"},
{"offset":0.84,"color":"#f0f"},{"offset":0.85,"color":"#f0f"},{"offset":0.855,"color":"#000"},
{"offset":0.86,"color":"#f0f"},{"offset":0.87,"color":"#f0f"},{"offset":0.875,"color":"#000"},
{"offset":0.88,"color":"#f0f"},{"offset":0.89,"color":"#f0f"},{"offset":0.895,"color":"#000"},
{"offset":0.9,"color":"#f0f"},{"offset":0.91,"color":"#f0f"},{"offset":0.915,"color":"#000"},
{"offset":0.92,"color":"#f0f"},{"offset":0.93,"color":"#f0f"},{"offset":0.935,"color":"#000"},
{"offset":0.94,"color":"#f0f"},{"offset":0.95,"color":"#f0f"},{"offset":0.955,"color":"#000"},
{"offset":0.96,"color":"#f0f"},{"offset":0.97,"color":"#f0f"},{"offset":0.975,"color":"#000"},
{"offset":0.98,"color":"#f0f"},{"offset":0.99,"color":"#f0f"},{"offset":0.995,"color":"#000"},
{"offset":1,"color":"#f0f"}]}},
  "encoding":{"x":{"field":"x","type":"quantitative"},"y":{"field":"y","type":"quantitative"},"y2":{"datum":0}}},
 {"transform":[{"filter":"datum.r == 'p2'"}],"mark":{"type":"area","opacity":1},
  "encoding":{"x":{"field":"x","type":"quantitative"},"y":{"field":"y","type":"quantitative"},"y2":{"datum":0}}},
 {"mark":{"type":"rule","color":"#222","strokeWidth":1},"encoding":{"x":{"datum":0,"type":"quantitative"},"x2":{"datum":99.3},"y":{"datum":0,"type":"quantitative"}}},
 {"mark":{"type":"rule","color":"#222","strokeWidth":1},"encoding":{"x":{"datum":0,"type":"quantitative"},"y":{"datum":0,"type":"quantitative"},"y2":{"datum":101.5}}},
 {"mark":{"type":"point","shape":"triangle-up","filled":true,"color":"#000","size":45,"opacity":1},"encoding":{"x":{"datum":0,"type":"quantitative"},"y":{"datum":101.5,"type":"quantitative"}}},
 {"mark":{"type":"point","shape":"triangle-right","filled":true,"color":"#000","size":45,"opacity":1},"encoding":{"x":{"datum":99.3,"type":"quantitative"},"y":{"datum":0,"type":"quantitative"}}},
 {"mark":{"type":"text","text":"incubation temperature: 90 ° C","font":"Liberation Sans","fontSize":17,"fontWeight":"bold","color":"#000"},"encoding":{"x":{"datum":50.4,"type":"quantitative"},"y":{"datum":88.4,"type":"quantitative"}}},
 {"data":{"values":[{"x":16.6,"y":59,"t":"1"},{"x":87.5,"y":101,"t":"2"}]},"mark":{"type":"text","fontSize":5,"angle":90,"color":"#333","font":"Liberation Sans"},"encoding":{"x":{"field":"x","type":"quantitative"},"y":{"field":"y","type":"quantitative"},"text":{"field":"t"}}}
]}
],"spacing":0},
{"width":572,"height":380,"data":{"name":"c"},"layer":[
 {"mark":{"type":"line","color":"#ff55ff","strokeWidth":1},
  "encoding":{
   "x":{"field":"x","type":"quantitative","scale":{"domain":[-8.454,113.35],"nice":false,"zero":false},
     "axis":{"title":"Position [mm]","offset":-40.7,"labelOverlap":false,"tickCount":500,"format":"d","values":[0,1,2,3,4,5,6,7,8,9,10,11,12,13,14,15,16,17,18,19,20,21,22,23,24,25,26,27,28,29,30,31,32,33,34,35,36,37,38,39,40,41,42,43,44,45,46,47,48,49,50,51,52,53,54,55,56,57,58,59,60,61,62,63,64,65,66,67,68,69,70,71,72,73,74,75,76,77,78,79,80,81,82,83,84,85,86,87,88,89,90,91,92,93,94,95,96,97,98,99,100,101,102,103,104,105,106,107,108,109,110,111],"labelExpr":"datum.value % 10 == 0 ? datum.label : ''","tickSize":{"condition":{"test":"datum.value % 10 == 0","value":5},"value":3}}},
   "y":{"field":"y","type":"quantitative","scale":{"domain":[-11.73,97.78],"nice":false,"zero":false},
     "axis":{"title":"Intensity [PSL]","offset":-39.7,"labelOverlap":false,"tickCount":500,"format":"d","values":[0,1,2,3,4,5,6,7,8,9,10,11,12,13,14,15,16,17,18,19,20,21,22,23,24,25,26,27,28,29,30,31,32,33,34,35,36,37,38,39,40,41,42,43,44,45,46,47,48,49,50,51,52,53,54,55,56,57,58,59,60,61,62,63,64,65,66,67,68,69,70,71,72,73,74,75,76,77,78,79,80,81,82,83,84,85,86,87,88,89,90,91,92,93],"labelExpr":"datum.value % 10 == 0 ? datum.label : ''","tickSize":{"condition":{"test":"datum.value % 10 == 0","value":5},"value":3}}}}},
 {"transform":[{"filter":"datum.r == 'p1'"}],
  "mark":{"type":"area","opacity":1,"fill":{"gradient":"linear","x1":0,"y1":0,"x2":0.6162,"y2":1.1975,"stops":[
{"offset":0,"color":"#f0f"},{"offset":0.016,"color":"#f0f"},{"offset":0.024,"color":"#000"},
{"offset":0.032,"color":"#f0f"},{"offset":0.048,"color":"#f0f"},{"offset":0.056,"color":"#000"},
{"offset":0.064,"color":"#f0f"},{"offset":0.08,"color":"#f0f"},{"offset":0.088,"color":"#000"},
{"offset":0.096,"color":"#f0f"},{"offset":0.112,"color":"#f0f"},{"offset":0.12,"color":"#000"},
{"offset":0.128,"color":"#f0f"},{"offset":0.144,"color":"#f0f"},{"offset":0.152,"color":"#000"},
{"offset":0.16,"color":"#f0f"},{"offset":0.176,"color":"#f0f"},{"offset":0.184,"color":"#000"},
{"offset":0.192,"color":"#f0f"},{"offset":0.208,"color":"#f0f"},{"offset":0.216,"color":"#000"},
{"offset":0.224,"color":"#f0f"},{"offset":0.24,"color":"#f0f"},{"offset":0.248,"color":"#000"},
{"offset":0.256,"color":"#f0f"},{"offset":0.272,"color":"#f0f"},{"offset":0.28,"color":"#000"},
{"offset":0.288,"color":"#f0f"},{"offset":0.304,"color":"#f0f"},{"offset":0.312,"color":"#000"},
{"offset":0.32,"color":"#f0f"},{"offset":0.336,"color":"#f0f"},{"offset":0.344,"color":"#000"},
{"offset":0.352,"color":"#f0f"},{"offset":0.368,"color":"#f0f"},{"offset":0.376,"color":"#000"},
{"offset":0.384,"color":"#f0f"},{"offset":0.4,"color":"#f0f"},{"offset":0.408,"color":"#000"},
{"offset":0.416,"color":"#f0f"},{"offset":0.432,"color":"#f0f"},{"offset":0.44,"color":"#000"},
{"offset":0.448,"color":"#f0f"},{"offset":0.464,"color":"#f0f"},{"offset":0.472,"color":"#000"},
{"offset":0.48,"color":"#f0f"},{"offset":0.496,"color":"#f0f"},{"offset":0.504,"color":"#000"},
{"offset":0.512,"color":"#f0f"},{"offset":0.528,"color":"#f0f"},{"offset":0.536,"color":"#000"},
{"offset":0.544,"color":"#f0f"},{"offset":0.56,"color":"#f0f"},{"offset":0.568,"color":"#000"},
{"offset":0.576,"color":"#f0f"},{"offset":0.592,"color":"#f0f"},{"offset":0.6,"color":"#000"},
{"offset":0.608,"color":"#f0f"},{"offset":0.624,"color":"#f0f"},{"offset":0.632,"color":"#000"},
{"offset":0.64,"color":"#f0f"},{"offset":0.656,"color":"#f0f"},{"offset":0.664,"color":"#000"},
{"offset":0.672,"color":"#f0f"},{"offset":0.688,"color":"#f0f"},{"offset":0.696,"color":"#000"},
{"offset":0.704,"color":"#f0f"},{"offset":0.72,"color":"#f0f"},{"offset":0.728,"color":"#000"},
{"offset":0.736,"color":"#f0f"},{"offset":0.752,"color":"#f0f"},{"offset":0.76,"color":"#000"},
{"offset":0.768,"color":"#f0f"},{"offset":0.784,"color":"#f0f"},{"offset":0.792,"color":"#000"},
{"offset":0.8,"color":"#f0f"},{"offset":0.816,"color":"#f0f"},{"offset":0.824,"color":"#000"},
{"offset":0.832,"color":"#f0f"},{"offset":0.848,"color":"#f0f"},{"offset":0.856,"color":"#000"},
{"offset":0.864,"color":"#f0f"},{"offset":0.88,"color":"#f0f"},{"offset":0.888,"color":"#000"},
{"offset":0.896,"color":"#f0f"},{"offset":0.912,"color":"#f0f"},{"offset":0.92,"color":"#000"},
{"offset":0.928,"color":"#f0f"},{"offset":0.944,"color":"#f0f"},{"offset":0.952,"color":"#000"},
{"offset":0.96,"color":"#f0f"},{"offset":0.976,"color":"#f0f"},{"offset":0.984,"color":"#000"},
{"offset":0.992,"color":"#f0f"},{"offset":1,"color":"#f0f"}]}},
  "encoding":{"x":{"field":"x","type":"quantitative"},"y":{"field":"y","type":"quantitative"},"y2":{"datum":0}}},
 {"transform":[{"filter":"datum.r == 'p2'"}],"mark":{"type":"area","opacity":1},
  "encoding":{"x":{"field":"x","type":"quantitative"},"y":{"field":"y","type":"quantitative"},"y2":{"datum":0}}},
 {"mark":{"type":"rule","color":"#222","strokeWidth":1},"encoding":{"x":{"datum":0,"type":"quantitative"},"x2":{"datum":112.2},"y":{"datum":0,"type":"quantitative"}}},
 {"mark":{"type":"rule","color":"#222","strokeWidth":1},"encoding":{"x":{"datum":0,"type":"quantitative"},"y":{"datum":0,"type":"quantitative"},"y2":{"datum":94}}},
 {"mark":{"type":"point","shape":"triangle-up","filled":true,"color":"#000","size":45,"opacity":1},"encoding":{"x":{"datum":0,"type":"quantitative"},"y":{"datum":94,"type":"quantitative"}}},
 {"mark":{"type":"point","shape":"triangle-right","filled":true,"color":"#000","size":45,"opacity":1},"encoding":{"x":{"datum":112.2,"type":"quantitative"},"y":{"datum":0,"type":"quantitative"}}},
 {"mark":{"type":"text","text":"incubation temperature: 95 ° C","font":"Liberation Sans","fontSize":17,"fontWeight":"bold","color":"#000"},"encoding":{"x":{"datum":52.5,"type":"quantitative"},"y":{"datum":81.4,"type":"quantitative"}}},
 {"data":{"values":[{"x":17.9,"y":42,"t":"1"},{"x":86.4,"y":92.5,"t":"2"}]},"mark":{"type":"text","fontSize":5,"angle":90,"color":"#333","font":"Liberation Sans"},"encoding":{"x":{"field":"x","type":"quantitative"},"y":{"field":"y","type":"quantitative"},"text":{"field":"t"}}}
]}
]
}
